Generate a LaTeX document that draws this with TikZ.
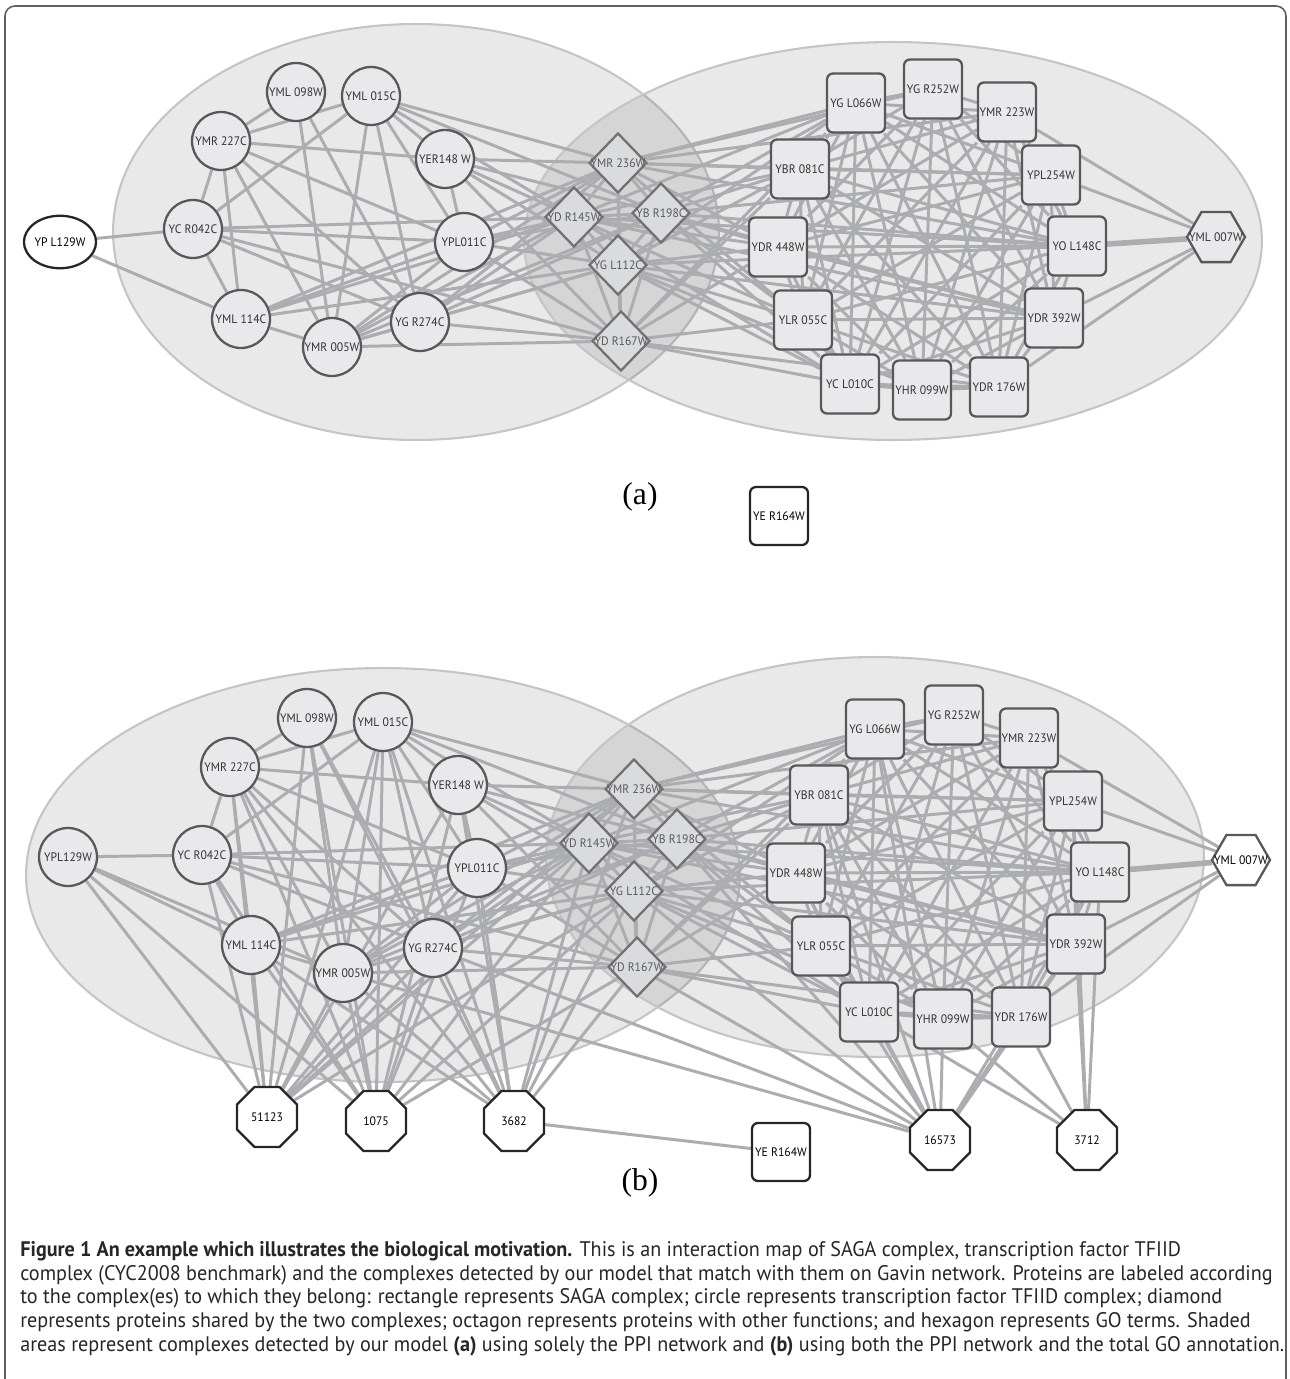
\documentclass[tikz,border=0pt]{standalone}
\usepackage{fontspec}
\setmainfont{Liberation Serif}
\newfontfamily\labfont[FakeStretch=0.95]{PT Sans}
\newfontfamily\capfont[FakeStretch=0.956]{PT Sans}
\usetikzlibrary{shapes.geometric}
\definecolor{cellgray}{RGB}{233,233,235}
\definecolor{diagray}{RGB}{218,219,221}
\definecolor{edgegray}{RGB}{172,173,176}
\definecolor{nodeborder}{RGB}{88,88,90}
\definecolor{ellborder}{RGB}{196,197,199}
\definecolor{framegray}{RGB}{95,95,95}
\pgfdeclarelayer{back}\pgfdeclarelayer{edgelayer}
\pgfsetlayers{back,edgelayer,main}
\tikzset{
 labsty/.style={font=\labfont\fontsize{7}{8}\selectfont, inner sep=0pt, text=black!80},
 circnode/.style={circle, draw=nodeborder, line width=1.3pt, fill=cellgray, minimum size=1.16cm, inner sep=0pt, labsty},
 rectnode/.style={rectangle, rounded corners=0.12cm, draw=nodeborder, line width=1.3pt, fill=cellgray, minimum width=1.16cm, minimum height=1.18cm, inner sep=0pt, labsty},
 dianode/.style={diamond, draw=nodeborder!85, line width=1.3pt, fill=diagray, minimum width=1.16cm, minimum height=1.2cm, inner sep=0pt},
 hexnode/.style={regular polygon, regular polygon sides=6, draw=nodeborder, line width=1.3pt, minimum size=1.16cm, inner sep=0pt},
 octnode/.style={regular polygon, regular polygon sides=8, draw=black!85, line width=1.3pt, fill=white, minimum size=1.3cm, inner sep=0pt, labsty, text=black},
 whitecirc/.style={ellipse, draw=black!85, line width=1.3pt, fill=white, minimum width=1.16cm, minimum height=1.05cm, inner sep=0pt, labsty, text=black},
 whiterect/.style={rectangle, rounded corners=0.12cm, draw=black!85, line width=1.3pt, fill=white, minimum width=1.16cm, minimum height=1.16cm, inner sep=0pt, labsty, text=black},
 edge/.style={draw=edgegray, line width=1.7pt},
 ellsty/.style={fill=black, fill opacity=0.085, draw=ellborder, draw opacity=1, line width=1.2pt},
 capsty/.style={font=\capfont\fontsize{12}{14}\selectfont, inner sep=0pt, text=black!85, anchor=base west},
 partlab/.style={font=\fontsize{18}{20}\selectfont, inner sep=0pt}
}
\newcommand\coreedges[1]{%
 \foreach \u/\v in {c1/c2,c1/c7,c1/c4,c1/c6,c1/c9,c1/d2,c1/d5,
 c2/c3,c2/c4,c2/c5,c2/c6,c2/c9,c2/c7,c2/c8,
 c3/c8,c3/c9,
 c4/c8,c4/c9,c4/c6,c4/c5,c4/d1,c4/d2,c4/d3,
 c5/d1,c5/c6,c5/d2,c5/d4,c5/d3,c5/d5,
 c6/d1,c6/d2,c6/d4,c6/d3,c6/c7,c6/c8,c6/d5,
 c7/c8,c7/d2,c7/d4,c7/d1,
 c8/c9,c8/d5,c8/d1,c8/d2,c8/d4,c8/d3,
 c9/d1,c9/d2,c9/d4,c9/d3,c9/d5,
 d1/d2,d1/d3,d1/d4,d1/d5,d2/d3,d2/d4,d2/d5,d3/d4,d3/d5,d4/d5,
 d1/r1,d1/r12,d1/r2,d1/r11,d1/r5,d1/r4,d1/r10,d1/r3,
 d2/r1,d2/r12,d2/r11,d2/r10,d2/r9,d2/r5,d2/r6,
 d3/r12,d3/r11,d3/r10,d3/r1,d3/r5,d3/r6,d3/r4,d3/r9,
 d4/r11,d4/r10,d4/r12,d4/r5,d4/r9,d4/r8,d4/r6,d4/r1,
 d5/r10,d5/r11,d5/r9,d5/r12,d5/r1,d5/r7,
 h/r4,h/r6,h/r3,h/r7}
 {\draw[edge] (#1-\u) -- (#1-\v);}
 \draw[edge, line width=3.2pt] (#1-h) -- (#1-r5);
 \foreach \i in {1,...,12}{\foreach \j in {1,...,12}{\ifnum\i<\j\relax\draw[edge] (#1-r\i) -- (#1-r\j);\fi}}%
}
\begin{document}
\begin{tikzpicture}[x=0.02cm, y=-0.02cm]
\useasboundingbox (0,0) rectangle (1290,1379);
\draw[framegray, line width=0.9pt, rounded corners=0.2cm] (5,1390) -- (5,6) -- (1286,6) -- (1286,1390);

% ---------- ellipses ----------
\begin{pgfonlayer}{back}
\path[ellsty] (416,232) ellipse [x radius=6.06cm, y radius=4.16cm];
\path[ellsty] (893,241) ellipse [x radius=7.38cm, y radius=3.98cm];
\path[ellsty] (383,875) ellipse [x radius=7.14cm, y radius=4.14cm];
\path[ellsty] (875,857) ellipse [x radius=6.58cm, y radius=4.0cm];
\end{pgfonlayer}

% ---------- part (a) nodes ----------
\node[whitecirc] (a-c0) at (60,242) {YP L129W};
\foreach \n/\t/\x/\y in {c1/YC R042C/193/229, c2/YMR 227C/221/141, c3/YML 098W/296/92, c4/YML 015C/371/96, c5/YER148 W/445/159, c6/YPL011C/464/242, c7/YML 114C/241/319, c8/YMR 005W/332/347, c9/YG R274C/420/322}
  \node[circnode] (a-\n) at (\x,\y) {\t};
\foreach \n/\t/\x/\y in {d1/YMR 236W/618/163, d2/YD R145W/574/217, d3/YB R198C/661/213, d4/YG L112C/618/265, d5/YD R167W/621/341}
  {\node[dianode] (a-\n) at (\x,\y) {};
   \node[labsty, text=black!65] (a-\n-t) at (a-\n) {\t};}
\foreach \n/\t/\x/\y in {r1/YG L066W/856/103, r2/YG R252W/933/89, r3/YMR 223W/1007/112, r4/YPL254W/1051/175, r5/YO L148C/1077/246, r6/YDR 392W/1054/318, r7/YDR 176W/999/387, r8/YHR 099W/922/390, r9/YC L010C/850/384, r10/YLR 055C/803/320, r11/YDR 448W/778/247, r12/YBR 081C/800/169}
  \node[rectnode] (a-\n) at (\x,\y) {\t};
\node[hexnode, fill=cellgray] (a-h) at (1216,237) {};
\node[labsty] (a-h-t) at (a-h) {YML 007W};
\node[whiterect] (a-e) at (779,516) {YE R164W};
\node[partlab] (a-lab) at (640,497) {(a)};

% ---------- part (b) nodes ----------
\node[circnode] (b-c0) at (68,857) {YPL129W};
\foreach \n/\t/\x/\y in {c1/YC R042C/202/855, c2/YMR 227C/230/767, c3/YML 098W/307/718, c4/YML 015C/383/722, c5/YER148 W/458/785, c6/YPL011C/477/868, c7/YML 114C/251/945, c8/YMR 005W/343/973, c9/YG R274C/433/948}
  \node[circnode] (b-\n) at (\x,\y) {\t};
\foreach \n/\t/\x/\y in {d1/YMR 236W/634/789, d2/YD R145W/589/843, d3/YB R198C/677/839, d4/YG L112C/634/891, d5/YD R167W/637/967}
  {\node[dianode] (b-\n) at (\x,\y) {};
   \node[labsty, text=black!65] (b-\n-t) at (b-\n) {\t};}
\foreach \n/\t/\x/\y in {r1/YG L066W/875/729, r2/YG R252W/954/715, r3/YMR 223W/1029/738, r4/YPL254W/1073/801, r5/YO L148C/1100/872, r6/YDR 392W/1076/944, r7/YDR 176W/1021/1017, r8/YHR 099W/943/1019, r9/YC L010C/869/1012, r10/YLR 055C/821/946, r11/YDR 448W/796/873, r12/YBR 081C/819/795}
  \node[rectnode] (b-\n) at (\x,\y) {\t};
\node[hexnode, fill=white] (b-h) at (1241,860) {};
\node[labsty, text=black] (b-h-t) at (b-h) {YML 007W};
\node[whiterect] (b-e) at (781,1152) {YE R164W};
\foreach \n/\t/\x/\y in {o1/51123/267/1117, o2/1075/376/1121, o3/3682/514/1121, o4/16573/940/1140, o5/3712/1087/1140}
  \node[octnode] (b-\n) at (\x,\y) {\t};
\node[partlab] (b-lab) at (640,1183) {(b)};

% ---------- edges ----------
\begin{pgfonlayer}{edgelayer}
\coreedges{a}
\draw[edge] (a-c0) -- (a-c1);
\draw[edge] (a-c0) -- (a-c7);
\coreedges{b}
\foreach \u/\v in {c0/c1,c0/c7,c0/c8,
 o1/c0,o1/c1,o1/c2,o1/c7,o1/c3,o1/c4,o1/c8,o1/c9,o1/c5,o1/c6,o1/d1,o1/d2,o1/d4,
 o2/c0,o2/c1,o2/c2,o2/c7,o2/c3,o2/c4,o2/c8,o2/c9,o2/c5,o2/c6,o2/d2,o2/d4,o2/d5,
 o3/c2,o3/c7,o3/c8,o3/c4,o3/c5,o3/c6,o3/c9,o3/d1,o3/d2,o3/d4,o3/d5,o3/c3,o3/e,
 o4/d1,o4/d4,o4/d5,o4/r11,o4/r10,o4/r9,o4/r8,o4/r7,o4/r12,o4/r6,o4/r5,o4/c9,o4/r1,o4/c8,
 o5/r6,o5/r7,o5/r8,o5/r5,o5/r4,o5/r9}
 {\draw[edge] (b-\u) -- (b-\v);}
\end{pgfonlayer}

% ---------- caption ----------
\node[capsty] (cap1) at (20,1256) {\textbf{Figure 1 An example which illustrates the biological motivation.} This is an interaction map of SAGA complex, transcription factor TFIID};
\node[capsty] (cap2) at (20,1280) {complex (CYC2008 benchmark) and the complexes detected by our model that match with them on Gavin network. Proteins are labeled according};
\node[capsty] (cap3) at (20,1303) {to the complex(es) to which they belong: rectangle represents SAGA complex; circle represents transcription factor TFIID complex; diamond};
\node[capsty] (cap4) at (20,1327) {represents proteins shared by the two complexes; octagon represents proteins with other functions; and hexagon represents GO terms. Shaded};
\node[capsty] (cap5) at (20,1351) {areas represent complexes detected by our model \textbf{(a)} using solely the PPI network and \textbf{(b)} using both the PPI network and the total GO annotation.};
\end{tikzpicture}
\end{document}
